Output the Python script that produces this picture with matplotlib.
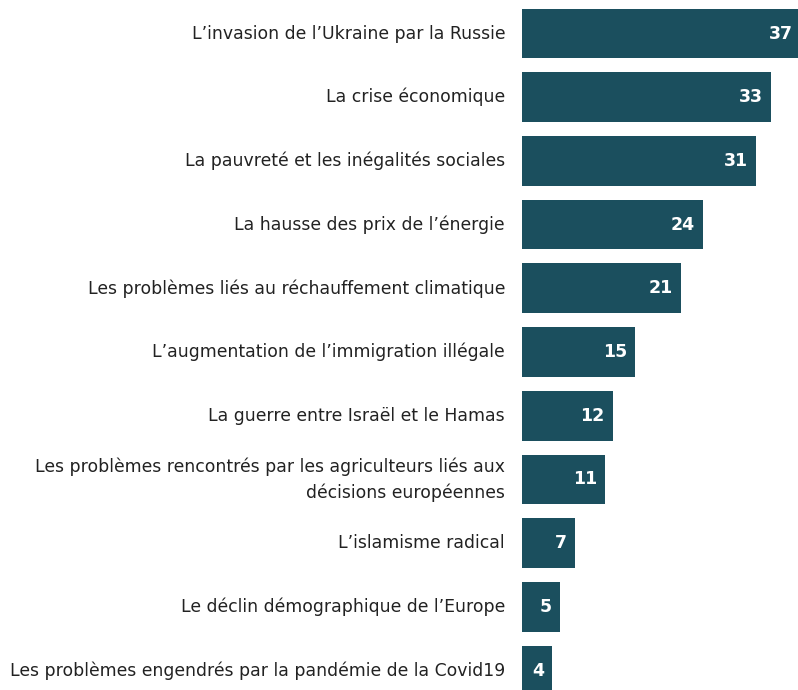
import matplotlib
matplotlib.use("Agg")
import matplotlib.pyplot as plt
from matplotlib.transforms import offset_copy

# Enjeux cités, en % des répondants
labels = [
    "L\u2019invasion de l\u2019Ukraine par la Russie",
    "La crise économique",
    "La pauvreté et les inégalités sociales",
    "La hausse des prix de l\u2019énergie",
    "Les problèmes liés au réchauffement climatique",
    "L\u2019augmentation de l\u2019immigration illégale",
    "La guerre entre Israël et le Hamas",
    "Les problèmes rencontrés par les agriculteurs liés aux\ndécisions européennes",
    "L\u2019islamisme radical",
    "Le déclin démographique de l\u2019Europe",
    "Les problèmes engendrés par la pandémie de la Covid19",
]
values = [37, 33, 31, 24, 21, 15, 12, 11, 7, 5, 4]

BAR = "#1b4f5e"

W, H = 798, 690
fig = plt.figure(figsize=(W / 100, H / 100), dpi=100)
ax = fig.add_axes([522 / W, 0, 1 - 522 / W, 1])

pos = list(range(len(values)))
ax.barh(pos, values, height=0.78, color=BAR, clip_on=True)

px_per_unit = 7.55
ax.set_xlim(0, (W - 522) / px_per_unit)
pitch = 63.7
ax.set_ylim((H - 33.5) / pitch, -33.5 / pitch)
ax.axis("off")

for y, v in zip(pos, values):
    tr = offset_copy(ax.transData, fig=fig, x=-8, y=0, units="dots")
    ax.text(v, y, str(v), transform=tr, ha="right", va="center",
            color="white", fontsize=12.5, fontweight="bold")

for y, lab in zip(pos, labels):
    tr = offset_copy(ax.transData, fig=fig, x=-17, y=0, units="dots")
    ax.text(0, y, lab, transform=tr, ha="right", va="center",
            color="#222222", fontsize=12.4, multialignment="right",
            linespacing=1.5, clip_on=False)

fig.savefig("out.png", dpi=100)
